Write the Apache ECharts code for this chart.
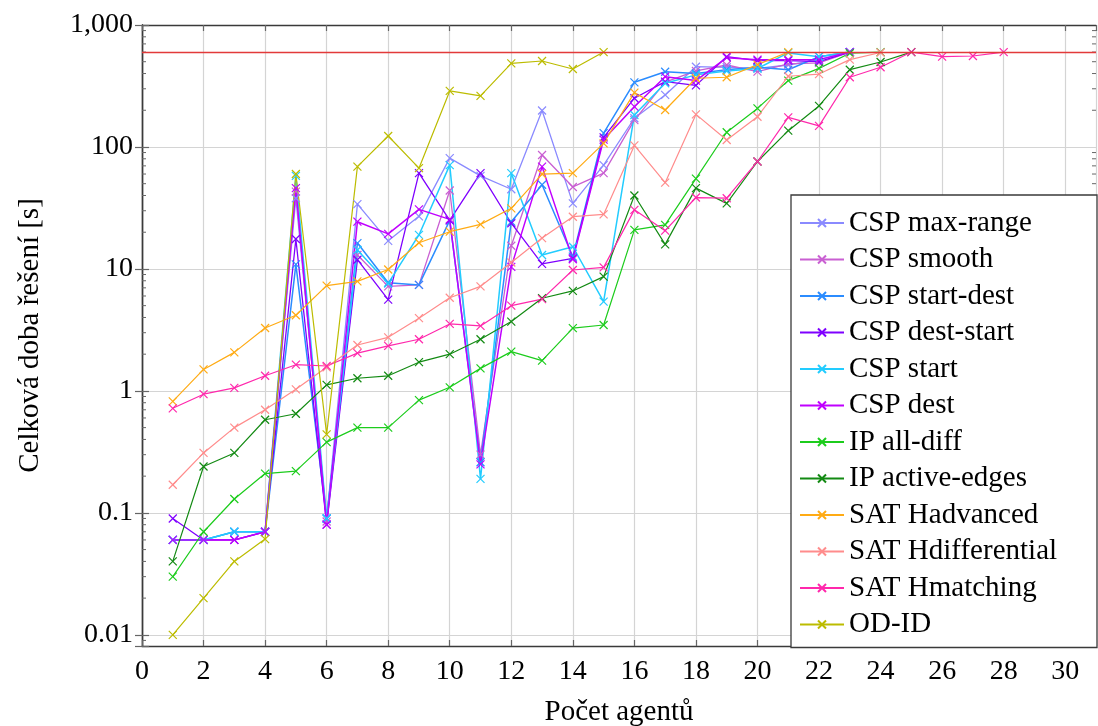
<!DOCTYPE html>
<html>
<head>
<meta charset="utf-8">
<script src="https://cdn.jsdelivr.net/npm/echarts@6/dist/echarts.min.js"></script>
<style>
  html, body { margin: 0; padding: 0; background: #fff; }
  #chart { width: 1098px; height: 726px; }
</style>
</head>
<body>
<div id="chart"></div>
<script>
// Number of agents on the x axis (each series starts at 1 agent)
const AGENTS = [1, 2, 3, 4, 5, 6, 7, 8, 9, 10, 11, 12, 13, 14, 15, 16, 17, 18, 19, 20, 21, 22, 23, 24, 25, 26, 27, 28];

// Total solve time [s] per solver; a series stops once it hits the time limit
const CSP_MAX_RANGE     = [0.06, 0.06, 0.07, 0.07, 38, 0.09, 34, 17, 27, 81, 58, 45, 199, 34.5, 71, 172, 267, 455, 450, 440, 470, 520, 600];
const CSP_SMOOTH        = [0.06, 0.06, 0.06, 0.07, 43, 0.085, 13, 7.2, 7.4, 44, 0.30, 15.5, 86, 47, 61, 166, 340, 420, 470, 415, 480, 490, 600];
const CSP_START_DEST    = [0.06, 0.06, 0.07, 0.07, 10.9, 0.09, 16.3, 7.7, 7.4, 25, 0.26, 24.4, 49, 12.6, 130, 339, 414, 400, 430, 450, 430, 550, 600];
const CSP_DEST_START    = [0.09, 0.06, 0.06, 0.07, 17.6, 0.08, 11.9, 5.6, 61, 25, 61, 23.7, 11, 12.2, 120, 251, 343, 320, 550, 510, 510, 500, 600];
const CSP_START         = [0.06, 0.06, 0.07, 0.07, 58, 0.09, 14.3, 7.6, 19, 71, 0.19, 61, 13, 15.2, 5.4, 183, 333, 390, 420, 440, 590, 550, 600];
const CSP_DEST          = [0.06, 0.06, 0.06, 0.07, 46, 0.08, 24.4, 19.4, 30.8, 25.5, 0.25, 10.4, 69, 12, 115, 214, 377, 350, 540, 520, 520, 520, 600];
const IP_ALL_DIFF       = [0.030, 0.070, 0.13, 0.21, 0.22, 0.38, 0.50, 0.50, 0.84, 1.07, 1.53, 2.10, 1.77, 3.27, 3.47, 20.9, 23, 55, 132, 207, 350, 441, 587, 600];
const IP_ACTIVE_EDGES   = [0.040, 0.24, 0.31, 0.58, 0.65, 1.12, 1.27, 1.33, 1.72, 2.0, 2.65, 3.70, 5.75, 6.6, 8.65, 40, 15.9, 46, 34.5, 76, 136, 217, 430, 497, 600];
const SAT_HADVANCED     = [0.82, 1.5, 2.07, 3.28, 4.17, 7.3, 7.9, 9.9, 16.4, 20.2, 23.2, 31.4, 60, 61, 107, 279, 201, 366, 373, 473, 600];
const SAT_HDIFFERENTIAL = [0.17, 0.31, 0.50, 0.70, 1.03, 1.56, 2.38, 2.75, 3.95, 5.8, 7.2, 11.3, 17.9, 26.8, 28, 103, 51, 185, 114, 177, 380, 396, 520, 595];
const SAT_HMATCHING     = [0.72, 0.94, 1.06, 1.33, 1.64, 1.6, 2.04, 2.34, 2.65, 3.54, 3.41, 5.0, 5.65, 9.8, 10.3, 30.5, 20.6, 38.5, 38, 76, 175, 149, 373, 450, 600, 550, 557, 600];
const OD_ID             = [0.010, 0.020, 0.040, 0.061, 60, 0.44, 69, 123, 67, 288, 262, 485, 507, 436, 600];

// Time limit [s]
const TIMEOUT = 600;

// Axis tick values
const X_TICKS = [0, 2, 4, 6, 8, 10, 12, 14, 16, 18, 20, 22, 24, 26, 28, 30];
const Y_TICKS = [0.01, 0.1, 1, 10, 100, 1000];
const Y_TICK_LABELS = ['0.01', '0.1', '1', '10', '100', '1,000'];

const SERIES_DEFS = [
  { name: 'CSP max-range',     values: CSP_MAX_RANGE,     color: '#8a8aff', width: 1.3 },
  { name: 'CSP smooth',        values: CSP_SMOOTH,        color: '#c95fd2', width: 1.3 },
  { name: 'CSP start-dest',    values: CSP_START_DEST,    color: '#2b8cff', width: 1.5 },
  { name: 'CSP dest-start',    values: CSP_DEST_START,    color: '#7f00ff', width: 1.3 },
  { name: 'CSP start',         values: CSP_START,         color: '#22ccff', width: 1.5 },
  { name: 'CSP dest',          values: CSP_DEST,          color: '#c000ff', width: 1.5 },
  { name: 'IP all-diff',       values: IP_ALL_DIFF,       color: '#1ccc1c', width: 1.2 },
  { name: 'IP active-edges',   values: IP_ACTIVE_EDGES,   color: '#138a13', width: 1.2 },
  { name: 'SAT Hadvanced',     values: SAT_HADVANCED,     color: '#ffab14', width: 1.2 },
  { name: 'SAT Hdifferential', values: SAT_HDIFFERENTIAL, color: '#ff8c8c', width: 1.2 },
  { name: 'SAT Hmatching',     values: SAT_HMATCHING,     color: '#ff28ac', width: 1.2 },
  { name: 'OD-ID',             values: OD_ID,             color: '#bcbc00', width: 1.2 }
];

const X_MIN = 0, X_MAX = 31;
const Y_MIN = 0.0081, Y_MAX = 1000;
const FONT = "'Liberation Serif', 'DejaVu Serif', serif";
const CROSS = 'path://M0 0L10 10M10 0L0 10';

// Minor tick values of the log axis: 2..9 within each decade
const MINOR_TICKS = [];
for (let e = -3; e <= 2; e++) {
  for (let m = 2; m <= 9; m++) {
    const v = m * Math.pow(10, e);
    if (v > Y_MIN && v < Y_MAX) MINOR_TICKS.push(+v.toPrecision(3));
  }
}

function yLabel(v) {
  for (let i = 0; i < Y_TICKS.length; i++) {
    if (Math.abs(v - Y_TICKS[i]) / Y_TICKS[i] < 1e-6) return Y_TICK_LABELS[i];
  }
  return '';
}

const lineSeries = SERIES_DEFS.map(d => ({
  type: 'line',
  name: d.name,
  data: d.values.map((v, i) => [AGENTS[i], v]),
  symbol: CROSS,
  symbolSize: 8,
  showSymbol: true,
  color: d.color,
  lineStyle: { color: d.color, width: d.width },
  itemStyle: { color: d.color, borderColor: d.color, borderWidth: 1.2 },
  emphasis: { disabled: true },
  animation: false,
  z: 3
}));

const axisLineStyle = { color: '#3a3a3a', width: 1.4 };
const tickStyle = { color: '#666', width: 1.2 };

const chart = echarts.init(document.getElementById('chart'), null, { renderer: 'canvas' });
chart.setOption({
  animation: false,
  backgroundColor: '#fff',
  textStyle: { fontFamily: FONT, color: '#000' },
  grid: { left: 142, top: 25, right: 2, bottom: 80, containLabel: false, outerBoundsMode: 'none' },
  xAxis: [
    {
      type: 'value', min: X_MIN, max: X_MAX, interval: 2, position: 'bottom',
      name: 'Počet agentů', nameLocation: 'middle', nameGap: 52,
      nameTextStyle: { fontFamily: FONT, fontSize: 29, color: '#000' },
      axisLine: { lineStyle: axisLineStyle },
      axisTick: { inside: true, length: 6, lineStyle: tickStyle },
      axisLabel: {
        fontFamily: FONT, fontSize: 28, color: '#000', margin: 12,
        formatter: v => (X_TICKS.indexOf(v) >= 0 ? String(v) : '')
      },
      splitLine: { show: true, lineStyle: { color: '#d4d4d4', width: 1.2 } }
    },
    {
      type: 'value', min: X_MIN, max: X_MAX, interval: 2, position: 'top',
      axisLine: { lineStyle: axisLineStyle },
      axisTick: { inside: true, length: 6, lineStyle: tickStyle },
      axisLabel: { show: false },
      splitLine: { show: false }
    }
  ],
  yAxis: [
    {
      type: 'log', logBase: 10, min: Y_MIN, max: Y_MAX, position: 'left',
      name: 'Celková doba řešení [s]', nameLocation: 'middle', nameGap: 97, nameRotate: 90,
      nameTextStyle: { fontFamily: FONT, fontSize: 29, color: '#000' },
      axisLine: { show: true, lineStyle: axisLineStyle },
      axisTick: { inside: true, length: 7, lineStyle: tickStyle },
      axisLabel: {
        fontFamily: FONT, fontSize: 28, color: '#000', margin: 9,
        padding: [8, 0, 0, 0], formatter: yLabel
      },
      splitLine: { show: true, lineStyle: { color: '#d4d4d4', width: 1.2 } }
    },
    {
      type: 'log', logBase: 10, min: Y_MIN, max: Y_MAX, position: 'right',
      axisLine: { show: true, lineStyle: axisLineStyle },
      axisTick: { inside: true, length: 7, lineStyle: tickStyle },
      axisLabel: { show: false },
      splitLine: { show: false }
    }
  ],
  legend: {
    data: SERIES_DEFS.map(d => d.name),
    orient: 'vertical',
    left: 791, top: 195,
    padding: [13, 4, 8, 8],
    itemWidth: 44, itemHeight: 10, itemGap: 6.5,
    backgroundColor: '#fff',
    borderColor: '#3a3a3a', borderWidth: 1.3, borderRadius: 0,
    textStyle: { fontFamily: FONT, fontSize: 29, color: '#000', lineHeight: 30, width: 244 },
    selectedMode: false,
    z: 10
  },
  series: [
    {
      type: 'line', name: 'timeout', data: [], silent: true,
      markLine: {
        silent: true, symbol: 'none', animation: false,
        label: { show: false },
        lineStyle: { color: '#e23a3a', width: 1.3, type: 'solid' },
        data: [{ yAxis: TIMEOUT }]
      },
      z: 2
    },
    {
      type: 'custom', name: 'minor ticks', silent: true, clip: false, z: 4,
      data: MINOR_TICKS.map(v => [X_MIN, v]),
      renderItem: (params, api) => {
        const v = api.value(1);
        const l = api.coord([X_MIN, v]);
        const r = api.coord([X_MAX, v]);
        const st = { stroke: '#666', lineWidth: 1 };
        return {
          type: 'group',
          children: [
            { type: 'line', shape: { x1: l[0], y1: l[1], x2: l[0] + 4, y2: l[1] }, style: st },
            { type: 'line', shape: { x1: r[0] - 4, y1: r[1], x2: r[0], y2: r[1] }, style: st }
          ]
        };
      }
    }
  ].concat(lineSeries)
});
</script>
</body>
</html>
